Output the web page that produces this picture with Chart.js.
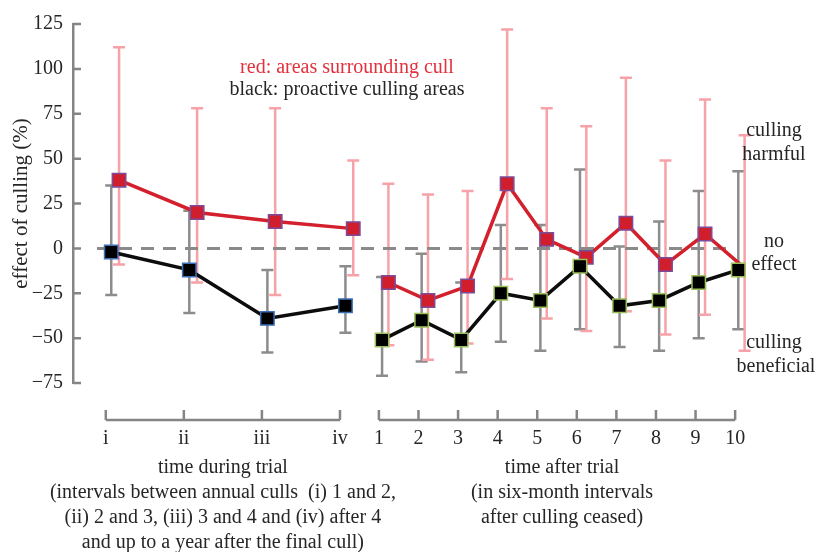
<!DOCTYPE html>
<html>
<head>
<meta charset="utf-8">
<script src="https://cdn.jsdelivr.net/npm/chart.js@4.4.0/dist/chart.umd.min.js"></script>
<style>
  html, body { margin: 0; padding: 0; background: #fff; }
  #wrap { position: relative; width: 816px; height: 552px; }
  #wrap canvas { position: absolute; left: 0; top: 0; }
</style>
</head>
<body>
<div id="wrap">
  <canvas id="duringChart" width="816" height="552"></canvas>
  <canvas id="afterChart" width="816" height="552"></canvas>
</div>
<script>
// time during trial (i - iv)
const duringLabels = ['i', 'ii', 'iii', 'iv'];
const duringRed = [38, 20, 15, 11];
const duringRedLow = [-9, -19, -26, -15];
const duringRedHigh = [112, 78, 78, 49];
const duringBlack = [-2, -12, -39, -32];
const duringBlackLow = [-26, -36, -58, -47];
const duringBlackHigh = [35, 21, -12, -10];

// time after trial (six-month intervals 1 - 10)
const afterLabels = ['1', '2', '3', '4', '5', '6', '7', '8', '9', '10'];
const afterRed = [-19, -29, -21, 36, 5, -5, 14, -9, 8, -11];
const afterRedLow = [-54, -62, -53, -17, -39, -46, -35, -48, -37, -57];
const afterRedHigh = [36, 30, 32, 122, 78, 68, 95, 49, 83, 63];
const afterBlack = [-51, -40, -51, -25, -29, -10, -32, -29, -19, -12];
const afterBlackLow = [-71, -63, -69, -52, -57, -45, -55, -57, -50, -45];
const afterBlackHigh = [-16, -3, -19, 13, 13, 44, 1, 15, 32, 43];

const yMin = -75, yMax = 125, yStep = 25;

const FONT = 'Liberation Serif, Times New Roman, serif';
const TEXT = '#262626';
const AXIS_GREY = '#858585';
const RED = '#d3202c';
const RED_ERR = '#f6a2a8';
const GREY_ERR = '#8c8c8c';

Chart.defaults.font.family = FONT;
Chart.defaults.font.size = 20;
Chart.defaults.color = TEXT;

// error bars drawn under the lines, black ones first so pink sits above grey
const errorBars = {
  id: 'errorBars',
  beforeDatasetsDraw(chart) {
    const ctx = chart.ctx, ys = chart.scales.y;
    [...chart.data.datasets.keys()].reverse().forEach(di => {
      const ds = chart.data.datasets[di];
      if (!ds.errLow) return;
      const meta = chart.getDatasetMeta(di);
      ctx.save();
      ctx.strokeStyle = ds.errColor;
      ctx.lineWidth = 2.5;
      meta.data.forEach((pt, i) => {
        const top = ys.getPixelForValue(ds.errHigh[i]);
        const bot = ys.getPixelForValue(ds.errLow[i]);
        ctx.beginPath();
        ctx.moveTo(pt.x, top); ctx.lineTo(pt.x, bot);
        ctx.moveTo(pt.x - 6, top); ctx.lineTo(pt.x + 6, top);
        ctx.moveTo(pt.x - 6, bot); ctx.lineTo(pt.x + 6, bot);
        ctx.stroke();
      });
      ctx.restore();
    });
  }
};

// dashed "no effect" line, bracket-style x axis, inward y ticks and the notes
const decor = {
  id: 'decor',
  beforeDatasetsDraw(chart, args, opts) {
    const ctx = chart.ctx, xs = chart.scales.x, ys = chart.scales.y;
    const area = chart.chartArea;
    const y0 = ys.getPixelForValue(0);
    const x0 = opts.zeroFrom != null ? xs.getPixelForValue(opts.zeroFrom) : area.left;
    const x1 = opts.zeroTo != null ? xs.getPixelForValue(opts.zeroTo) : area.right;
    ctx.save();
    ctx.strokeStyle = '#8a8a8a';
    ctx.lineWidth = 3;
    ctx.setLineDash([13, 9]);
    ctx.lineDashOffset = x0 - 97;
    ctx.beginPath();
    ctx.moveTo(x0, y0); ctx.lineTo(x1, y0);
    ctx.stroke();
    ctx.restore();
  },
  afterDraw(chart, args, opts) {
    const ctx = chart.ctx, xs = chart.scales.x, ys = chart.scales.y;
    const area = chart.chartArea;
    ctx.save();
    ctx.strokeStyle = AXIS_GREY;
    ctx.lineWidth = 2.5;

    // bracket under the points
    const by = area.bottom + 37;
    const ticks = xs.ticks.map(t => xs.getPixelForValue(t.value));
    ctx.beginPath();
    ctx.moveTo(ticks[0], by); ctx.lineTo(ticks[ticks.length - 1], by);
    ticks.forEach(px => { ctx.moveTo(px, by); ctx.lineTo(px, by - 10); });
    ctx.stroke();

    // y ticks pointing inward
    if (ys.options.display) {
      ctx.beginPath();
      ys.ticks.forEach(t => {
        const py = ys.getPixelForValue(t.value);
        ctx.moveTo(area.left, py); ctx.lineTo(area.left + 8, py);
      });
      ctx.stroke();
    }

    ctx.font = '20px ' + FONT;
    ctx.textAlign = 'center';
    ctx.textBaseline = 'middle';
    const cx = (ticks[0] + ticks[ticks.length - 1]) / 2 + (opts.captionShift || 0);
    ctx.fillStyle = TEXT;
    opts.caption.forEach((line, i) => ctx.fillText(line, cx, area.bottom + 85 + i * 25));
    (opts.notes || []).forEach(n => {
      ctx.fillStyle = n.color || TEXT;
      ctx.fillText(n.text, n.x, n.y);
    });
    ctx.restore();
  }
};

function buildPanel(id, o) {
  const shiftRed = o.redShift, shiftBlack = o.blackShift;
  return new Chart(document.getElementById(id), {
    type: 'line',
    data: {
      datasets: [{
        label: 'areas surrounding cull',
        data: o.red.map((v, i) => ({ x: i + 1 + shiftRed, y: v })),
        errLow: o.redLow, errHigh: o.redHigh, errColor: RED_ERR,
        borderColor: RED,
        borderWidth: 3.5,
        pointStyle: 'rect',
        pointRadius: o.redRadius || 9.5,
        pointBackgroundColor: '#d01e2c',
        pointBorderColor: '#7a4c9c',
        pointBorderWidth: 1.5,
        order: 1
      }, {
        label: 'proactive culling areas',
        data: o.black.map((v, i) => ({ x: i + 1 + shiftBlack, y: v })),
        errLow: o.blackLow, errHigh: o.blackHigh, errColor: GREY_ERR,
        borderColor: '#0c0c0c',
        borderWidth: 3.5,
        pointStyle: 'rect',
        pointRadius: 9.5,
        pointBackgroundColor: '#000',
        pointBorderColor: o.blackEdge,
        pointBorderWidth: 1.5,
        order: 0
      }]
    },
    options: {
      responsive: false,
      animation: false,
      events: [],
      layout: { padding: o.padding },
      plugins: {
        legend: { display: false },
        tooltip: { enabled: false },
        decor: o.decor
      },
      scales: {
        x: {
          type: 'linear',
          min: o.xMin, max: o.xMax,
          afterBuildTicks: s => { s.ticks = o.labels.map((l, i) => ({ value: i + 1 })); },
          afterFit: s => { s.height = 169; },
          grid: { display: false, drawTicks: false },
          border: { display: false },
          ticks: { padding: 44, color: TEXT, callback: (v, i) => o.labels[i] }
        },
        y: {
          display: o.showY,
          min: yMin, max: yMax,
          afterFit: s => { s.width = o.showY ? 73 : 0; },
          grid: { display: false, drawTicks: false },
          border: { color: AXIS_GREY, width: 2.5 },
          ticks: {
            stepSize: yStep, padding: 10, color: TEXT,
            callback: v => (v < 0 ? '\u2212' + Math.abs(v) : String(v))
          },
          title: {
            display: true, text: 'effect of culling (%)', color: TEXT,
            font: { size: 21 }, padding: { top: 9, bottom: 0 }
          }
        }
      }
    },
    plugins: [errorBars, decor]
  });
}

buildPanel('duringChart', {
  labels: duringLabels,
  red: duringRed, redLow: duringRedLow, redHigh: duringRedHigh,
  black: duringBlack, blackLow: duringBlackLow, blackHigh: duringBlackHigh,
  redShift: 0.17, blackShift: 0.07,
  blackEdge: '#3d6fb8',
  xMin: 0.58, xMax: 4.5,
  showY: true,
  padding: { top: 24, left: 0, right: 437, bottom: 0 },
  decor: {
    zeroFrom: 0.88,
    caption: [
      'time during trial',
      '(intervals between annual culls  (i) 1 and 2,',
      '(ii) 2 and 3, (iii) 3 and 4 and (iv) after 4',
      'and up to a year after the final cull)'
    ],
    notes: [
      { text: 'red: areas surrounding cull', x: 347, y: 68, color: '#e3303c' },
      { text: 'black: proactive culling areas', x: 347, y: 90 }
    ]
  }
});

buildPanel('afterChart', {
  labels: afterLabels,
  red: afterRed, redLow: afterRedLow, redHigh: afterRedHigh,
  black: afterBlack, blackLow: afterBlackLow, blackHigh: afterBlackHigh,
  redShift: 0.24, blackShift: 0.08,
  redRadius: ctx => (ctx.dataIndex === afterRed.length - 1 ? 0 : 9.5),
  blackEdge: '#9cc05a',
  xMin: 0.775, xMax: 10.3,
  showY: false,
  padding: { top: 24, left: 370, right: 69, bottom: 0 },
  decor: {
    zeroTo: 9.95,
    captionShift: 5,
    caption: [
      'time after trial',
      '(in six-month intervals',
      'after culling ceased)'
    ],
    notes: [
      { text: 'culling', x: 774, y: 131 },
      { text: 'harmful', x: 774, y: 155 },
      { text: 'no', x: 774, y: 242 },
      { text: 'effect', x: 774, y: 265 },
      { text: 'culling', x: 774, y: 343 },
      { text: 'beneficial', x: 776, y: 367 }
    ]
  }
});
</script>
</body>
</html>
